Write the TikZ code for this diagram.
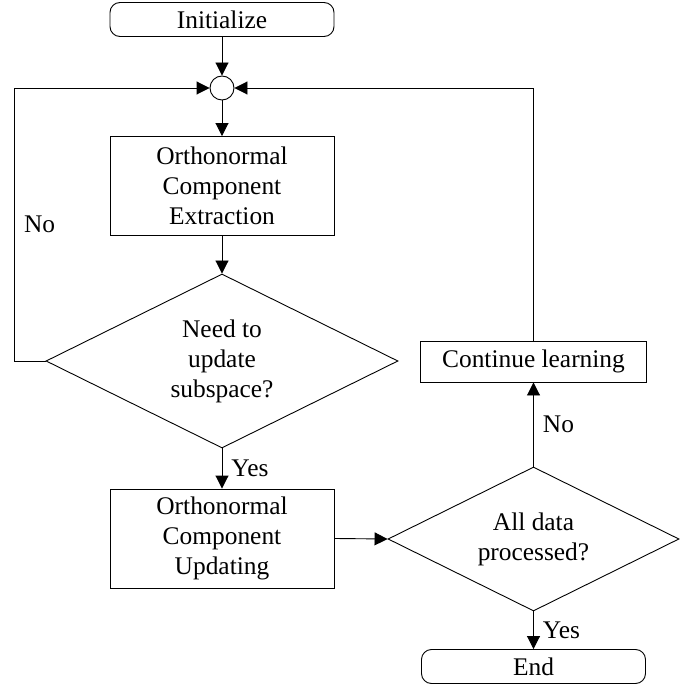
\documentclass[tikz,border=0pt]{standalone}
\usepackage{fontspec}
\setmainfont{Liberation Serif}
\usetikzlibrary{shapes.geometric,arrows.meta,calc}
\begin{document}
\begin{tikzpicture}[x=1pt,y=-1pt,
  every node/.style={font=\fontsize{25.4}{30}\selectfont},
  line/.style={line width=0.9pt},
  arr/.style={line width=0.9pt,-{Triangle[length=13pt,width=13pt]}},
  term/.style={draw,line width=0.9pt,rounded corners=10pt,minimum width=224pt,minimum height=34pt,inner sep=0pt},
  proc/.style={draw,line width=0.9pt,minimum width=224pt,minimum height=99pt,align=center,inner sep=0pt},
  dec/.style={draw,line width=0.9pt,diamond,aspect=2,inner sep=0pt,align=center},
  junc/.style={draw,line width=0.9pt,circle,minimum size=24pt,inner sep=0pt},
  lbl/.style={inner sep=9pt}]
\useasboundingbox (0,0) rectangle (697,690);
\node[term] (init) at (222,19.5) {Initialize};
\node[junc] (circ) at (222,88) {};
\node[proc] (box1) at (222,186) {Orthonormal\\Component\\Extraction};
\node[dec,minimum width=352pt,minimum height=174pt] (d1) at (222,361) {Need to\\update\\subspace?};
\node[proc] (box2) at (222,538.5) {Orthonormal\\Component\\Updating};
\node[dec,minimum width=291pt,minimum height=144pt] (d2) at (533.5,539) {All data\\processed?};
\node[term] (end) at (533.5,666.5) {End};
\node[draw,line width=0.9pt,minimum width=226pt,minimum height=41pt,inner sep=0pt] (cont) at (533.5,361.5) {Continue learning};
\coordinate (lx) at (14.7,361);
\coordinate (ly) at (14.7,88);
\draw[arr] (init) -- (circ);
\draw[arr] (circ) -- (box1);
\draw[arr] (box1) -- (d1.north);
\draw[arr] (d1.south) -- node[right,lbl]{Yes} (box2);
\draw[arr] (d1.west) -- (lx) -- node[right,lbl]{No} (ly) -- (circ.west);
\draw[arr] (box2.east) -- (d2.west);
\draw[arr] (d2.south) -- node[right,lbl]{Yes} (end);
\draw[arr] (d2.north) -- node[right,lbl]{No} (cont.south);
\draw[arr] (cont.north) |- (circ.east);
\end{tikzpicture}
\end{document}
